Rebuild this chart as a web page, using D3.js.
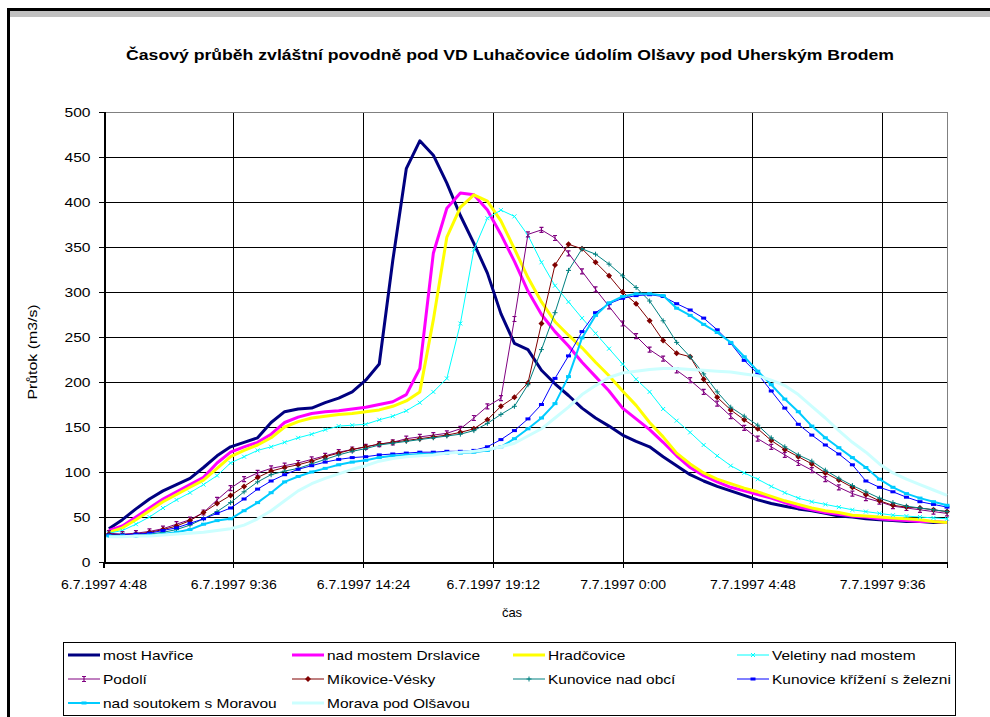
<!DOCTYPE html>
<html>
<head>
<meta charset="utf-8">
<script src="https://cdn.jsdelivr.net/npm/d3@7"></script>
<style>
    body { margin: 0; background: #fff; }
    svg { display: block; font-family: Arial, "Liberation Sans", sans-serif; }
</style>
</head>
<body>
<svg id="chart" width="990" height="717"></svg>
<script>
// Time of each reading, hours from 6.7.1997 0:00 (half-hour steps)
const hours = [5, 5.5, 6, 6.5, 7, 7.5, 8, 8.5, 9, 9.5, 10, 10.5, 11, 11.5, 12, 12.5, 13, 13.5,
    14, 14.5, 15, 15.5, 16, 16.5, 17, 17.5, 18, 18.5, 19, 19.5, 20, 20.5, 21, 21.5, 22, 22.5,
    23, 23.5, 24, 24.5, 25, 25.5, 26, 26.5, 27, 27.5, 28, 28.5, 29, 29.5, 30, 30.5, 31, 31.5,
    32, 32.5, 33, 33.5, 34, 34.5, 35, 35.5, 36];

// Flow values m3/s per station
const mostHavrice = [37, 47, 59, 70, 79, 86, 93, 105, 118, 128, 133, 138, 155, 167, 170, 171, 177, 182, 189, 202,
    220, 335, 437, 468, 452, 421, 385, 354, 321, 276, 243, 236, 213, 198, 185, 171, 160, 151, 141, 134,
    128, 117, 107, 97, 90, 84, 79, 74, 69, 65, 62, 59, 57, 54, 51, 50, 48, 47, 46, 45, 45, 44, 44];
const drslavice = [35, 40, 50, 60, 70, 78, 86, 94, 110, 122, 128, 133, 142, 155, 161, 165, 167, 168, 170, 172,
    175, 178, 186, 215, 343, 393, 410, 408, 391, 364, 334, 301, 275, 256, 240, 222, 206, 190, 171, 159,
    147, 133, 118, 105, 96, 89, 83, 79, 75, 71, 66, 61, 58, 55, 53, 51, 50, 48, 47, 46, 45, 45, 44];
const hradcovice = [33, 38, 47, 57, 67, 75, 83, 91, 104, 117, 124, 130, 138, 150, 156, 160, 162, 164, 165, 167,
    169, 173, 179, 189, 269, 361, 394, 408, 401, 379, 348, 316, 289, 267, 252, 238, 222, 207, 190, 174,
    155, 139, 121, 109, 99, 92, 87, 82, 78, 73, 68, 64, 60, 57, 55, 52, 51, 50, 49, 48, 47, 45, 44];
const veletiny = [32, 35, 42, 50, 60, 69, 77, 86, 96, 110, 117, 124, 128, 133, 138, 142, 147, 151, 152, 153,
    158, 162, 168, 177, 189, 204, 265, 347, 382, 391, 384, 363, 333, 307, 289, 271, 254, 237, 220, 203,
    189, 170, 157, 144, 130, 118, 107, 99, 92, 84, 77, 71, 67, 64, 61, 58, 56, 54, 52, 51, 50, 49, 48];
const podoli = [32, 31, 32, 34, 37, 42, 47, 55, 69, 82, 92, 99, 104, 107, 110, 114, 118, 122, 125, 128,
    131, 133, 137, 139, 141, 143, 148, 160, 173, 182, 270, 364, 369, 360, 343, 323, 303, 284, 265, 251,
    236, 226, 213, 202, 189, 176, 162, 149, 137, 128, 119, 110, 102, 92, 83, 76, 71, 67, 62, 60, 58, 56, 54];
const mikovice = [31, 30, 31, 33, 36, 40, 46, 55, 65, 74, 84, 94, 101, 105, 108, 112, 117, 121, 125, 128,
    131, 133, 135, 137, 139, 141, 144, 148, 158, 173, 183, 199, 265, 330, 353, 348, 333, 318, 300, 287,
    268, 246, 232, 228, 203, 183, 169, 158, 148, 135, 125, 117, 109, 99, 91, 83, 75, 68, 63, 61, 60, 58, 56];
const kunoviceObec = [30, 30, 30, 31, 33, 36, 41, 48, 56, 66, 78, 89, 97, 101, 104, 109, 114, 119, 123, 126,
    130, 132, 134, 136, 138, 140, 142, 146, 154, 164, 173, 197, 236, 277, 324, 348, 342, 331, 318, 305,
    290, 268, 244, 228, 209, 189, 172, 162, 152, 138, 128, 119, 112, 102, 93, 85, 78, 71, 66, 62, 60, 58, 56];
const kunoviceZel = [30, 30, 31, 32, 35, 38, 43, 48, 54, 60, 70, 81, 90, 97, 103, 107, 111, 114, 116, 117,
    119, 120, 121, 122, 122, 123, 123, 124, 128, 136, 146, 159, 175, 204, 229, 256, 277, 287, 293, 296,
    297, 295, 287, 280, 271, 258, 243, 224, 209, 190, 171, 153, 141, 130, 120, 108, 90, 83, 78, 72, 67, 64, 61];
const soutok = [29, 29, 29, 30, 31, 33, 36, 42, 46, 48, 57, 66, 77, 89, 95, 100, 104, 108, 111, 113,
    116, 118, 119, 120, 120, 121, 121, 122, 124, 128, 137, 148, 160, 176, 206, 249, 274, 288, 295, 298,
    298, 296, 282, 274, 264, 255, 244, 228, 212, 197, 181, 167, 151, 138, 127, 116, 105, 92, 83, 76, 71, 67, 63];
const morava = [28, 28, 29, 29, 30, 31, 32, 33, 35, 37, 41, 48, 57, 68, 79, 87, 93, 98, 103, 107,
    112, 115, 117, 118, 119, 121, 122, 123, 125, 128, 132, 140, 148, 160, 172, 186, 196, 205, 210, 212,
    214, 215, 215, 214, 213, 212, 211, 209, 207, 202, 196, 186, 173, 160, 146, 133, 122, 109, 99, 92, 86, 80, 74];

const seriesNames = ["most Havřice", "nad mostem Drslavice", "Hradčovice", "Veletiny nad mostem",
    "Podolí", "Míkovice-Vésky", "Kunovice nad obcí", "Kunovice křížení s železni",
    "nad soutokem s Moravou", "Morava pod Olšavou"];
const seriesValues = [mostHavrice, drslavice, hradcovice, veletiny, podoli, mikovice,
    kunoviceObec, kunoviceZel, soutok, morava];

// Axis ticks
const xTickHours = [4.8, 9.6, 14.4, 19.2, 24, 28.8, 33.6];
const xTickLabels = ["6.7.1997 4:48", "6.7.1997 9:36", "6.7.1997 14:24", "6.7.1997 19:12",
    "7.7.1997 0:00", "7.7.1997 4:48", "7.7.1997 9:36"];
const yTicks = [0, 50, 100, 150, 200, 250, 300, 350, 400, 450, 500];

const titleText = "Časový průběh zvláštní povodně pod VD Luhačovice údolím Olšavy pod Uherským Brodem";

// Line style of each series (Excel 2003 palette)
const styles = [
    { color: "#000080", width: 3, marker: null },
    { color: "#FF00FF", width: 3, marker: null },
    { color: "#FFFF00", width: 3, marker: null },
    { color: "#00FFFF", width: 1, marker: "cross" },
    { color: "#800080", width: 1, marker: "bar" },
    { color: "#800000", width: 1, marker: "diamond" },
    { color: "#008080", width: 1, marker: "plus" },
    { color: "#0000FF", width: 1, marker: "dash" },
    { color: "#00CCFF", width: 2, marker: "dash" },
    { color: "#CCFFFF", width: 3, marker: null }
];

// the source screenshot is a bit stretched sideways, so widen text to match
function stretch(sel, factor) {
    sel.each(function () {
        const len = this.getComputedTextLength();
        d3.select(this).attr("textLength", len * factor).attr("lengthAdjust", "spacingAndGlyphs");
    });
}

const svg = d3.select("#chart");

// Outer frame of the screenshot
svg.append("rect").attr("x", 7).attr("y", 8).attr("width", 983).attr("height", 3).attr("fill", "#000");
svg.append("rect").attr("x", 7).attr("y", 8).attr("width", 3).attr("height", 709).attr("fill", "#000");
svg.append("rect").attr("x", 10).attr("y", 11).attr("width", 980).attr("height", 6).attr("fill", "#c0c0c0");

const x = d3.scaleLinear().domain([4.8, 36]).range([103.5, 947]);
const y = d3.scaleLinear().domain([0, 500]).range([562, 112]);

// Title
const title = svg.append("text")
    .attr("x", 510).attr("y", 60)
    .attr("text-anchor", "middle")
    .attr("font-size", 15).attr("font-weight", "bold")
    .text(titleText);
stretch(title, 1.175);

// Grid lines
const grid = svg.append("g").attr("stroke", "#000").attr("stroke-width", 1).attr("shape-rendering", "crispEdges");
grid.selectAll(".hgrid").data(yTicks.slice(1)).enter().append("line")
    .attr("x1", x(4.8)).attr("x2", x(36))
    .attr("y1", d => Math.round(y(d)) + 0.5).attr("y2", d => Math.round(y(d)) + 0.5);
grid.selectAll(".vgrid").data(xTickHours.slice(1)).enter().append("line")
    .attr("x1", d => Math.round(x(d)) + 0.5).attr("x2", d => Math.round(x(d)) + 0.5)
    .attr("y1", y(500)).attr("y2", y(0));

// Plot area border (top/right in grey)
svg.append("path")
    .attr("d", `M${x(4.8)},${y(500) + 0.5}H${Math.round(x(36)) + 0.5}V${y(0)}`)
    .attr("fill", "none").attr("stroke", "#808080").attr("shape-rendering", "crispEdges");

// Axes
const yAxis = svg.append("g")
    .attr("transform", `translate(${Math.round(x(4.8)) + 0.5},0)`)
    .call(d3.axisLeft(y).tickValues(yTicks).tickSize(6).tickPadding(8));
const xAxis = svg.append("g")
    .attr("transform", `translate(0,${Math.round(y(0)) + 0.5})`)
    .call(d3.axisBottom(x).tickValues(xTickHours).tickSize(5).tickPadding(12)
        .tickFormat((d, i) => xTickLabels[i]));
[yAxis, xAxis].forEach(ax => {
    ax.selectAll("path, line").attr("stroke", "#000").attr("shape-rendering", "crispEdges");
    ax.select(".domain").attr("stroke-width", 1.5);
    ax.selectAll("text").attr("font-size", 13).attr("font-family", "Arial, 'Liberation Sans', sans-serif").attr("fill", "#000");
});
stretch(yAxis.selectAll("text"), 1.2);
stretch(xAxis.selectAll("text"), 1.08);

// Axis titles
const yTitle = svg.append("text")
    .attr("transform", "translate(37,352) rotate(-90)")
    .attr("text-anchor", "middle").attr("font-size", 13)
    .text("Průtok (m3/s)");
stretch(yTitle, 1.22);
svg.append("text")
    .attr("x", 512).attr("y", 617)
    .attr("text-anchor", "middle").attr("font-size", 13)
    .text("čas");

// Marker shapes
function drawMarker(g, type, color) {
    if (type === "cross") {
        g.append("path").attr("d", "M-2,-2L2,2M-2,2L2,-2").attr("stroke", color).attr("stroke-width", 1);
    } else if (type === "plus") {
        g.append("path").attr("d", "M-2.5,0H2.5M0,-2.5V2.5").attr("stroke", color).attr("stroke-width", 1);
    } else if (type === "bar") {
        g.append("path").attr("d", "M-2,-2.5H2M-2,2.5H2M0,-2.5V2.5").attr("stroke", color).attr("stroke-width", 1.2);
    } else if (type === "diamond") {
        g.append("path").attr("d", "M0,-3L3,0L0,3L-3,0Z").attr("fill", color);
    } else if (type === "dash") {
        g.append("rect").attr("x", -2.5).attr("y", -1.5).attr("width", 5).attr("height", 3).attr("fill", color);
    }
}

// Series lines
const line = d3.line().x((d, i) => x(hours[i])).y(d => y(d));
const plot = svg.append("g");
seriesValues.forEach((vals, k) => {
    const st = styles[k];
    const g = plot.append("g");
    g.append("path")
        .datum(vals)
        .attr("d", line)
        .attr("fill", "none")
        .attr("stroke", st.color)
        .attr("stroke-width", st.width)
        .attr("stroke-linejoin", "round");
    if (st.marker) {
        g.selectAll(".m").data(vals).enter().append("g")
            .attr("transform", (d, i) => `translate(${x(hours[i])},${y(d)})`)
            .each(function () { drawMarker(d3.select(this), st.marker, st.color); });
    }
});

// Legend
const legendCols = [68, 292, 513, 737];
const legendRows = [655, 679, 703];
const legend = svg.append("g");
legend.append("rect")
    .attr("x", 63.5).attr("y", 642.5).attr("width", 892).attr("height", 73)
    .attr("fill", "#fff").attr("stroke", "#000").attr("stroke-width", 1);
seriesNames.forEach((name, k) => {
    const st = styles[k];
    const lx = legendCols[k % 4], ly = legendRows[Math.floor(k / 4)];
    const item = legend.append("g").attr("transform", `translate(${lx},${ly})`);
    item.append("line").attr("x1", 0).attr("x2", 32).attr("y1", 0).attr("y2", 0)
        .attr("stroke", st.color).attr("stroke-width", st.width);
    if (st.marker) {
        drawMarker(item.append("g").attr("transform", "translate(16,0)"), st.marker, st.color);
    }
    const label = item.append("text").attr("x", 35).attr("y", 5)
        .attr("font-size", 13)
        .text(name);
    stretch(label, 1.19);
});
</script>
</body>
</html>
